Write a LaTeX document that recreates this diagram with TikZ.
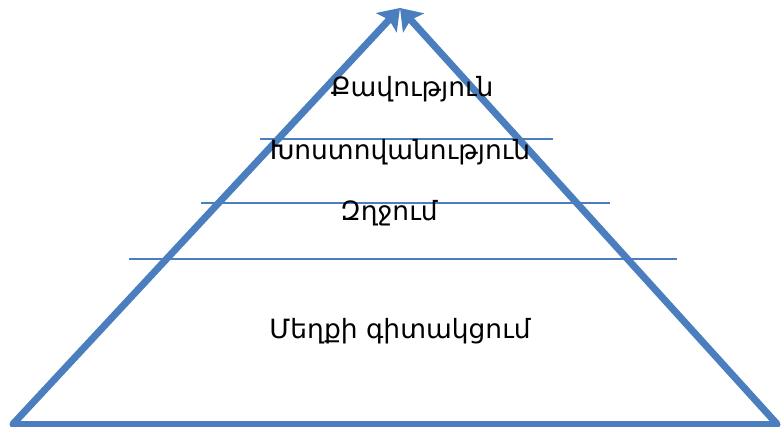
\documentclass[tikz,border=0pt]{standalone}
\usepackage{fontspec}
\setmainfont{DejaVu Sans}
\usetikzlibrary{arrows.meta}
\definecolor{pyrblue}{RGB}{74,126,190}
\begin{document}
\begin{tikzpicture}[x=1pt, y=-1pt,
                    side/.style={line width=7pt, draw=pyrblue, -{Stealth[length=20pt, width=28pt, inset=4pt]}},
                    base/.style={line width=7pt, draw=pyrblue, line cap=round},
                    level/.style={line width=1.3pt, draw=pyrblue},
                    label/.style={font=\fontsize{26.5}{30}\selectfont, inner sep=0pt}]
                    \useasboundingbox (0,0) rectangle (783,427);
                    \coordinate (bl) at (13,424);
                    \coordinate (br) at (777,424);
                    \coordinate (top) at (400,8);
                    \coordinate (l1a) at (260,139); \coordinate (l1b) at (553,139);
                    \coordinate (l2a) at (201,203); \coordinate (l2b) at (610,203);
                    \coordinate (l3a) at (129,259); \coordinate (l3b) at (677,259);
                    \draw[base] (bl) -- (br);
                    \draw[side] (bl) -- (top);
                    \draw[side] (br) -- (top);
                    \draw[level] (l1a) -- (l1b);
                    \draw[level] (l2a) -- (l2b);
                    \draw[level] (l3a) -- (l3b);
                    \node[label] (qav) at (412,89) {Քավություն};
                    \node[label] (xost) at (400,152) {Խոստովանություն};
                    \node[label] (zxj) at (389,213) {Զղջում};
                    \node[label] (megh) at (400,331) {Մեղքի գիտակցում};
                \end{tikzpicture}
\end{document}
